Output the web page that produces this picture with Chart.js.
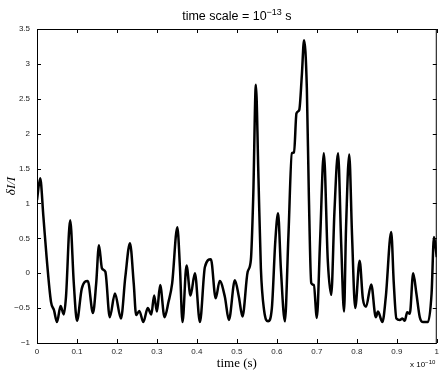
<!DOCTYPE html>
<html>
<head>
<meta charset="utf-8">
<script src="https://cdn.jsdelivr.net/npm/chart.js@4"></script>
<style>
  body { margin: 0; background: #fff; }
  canvas { display: block; }
</style>
</head>
<body>
<canvas id="chart" width="443" height="371"></canvas>
<script>
// time axis (units of 1e-10 s) and the relative intensity
const timeVals = [0, 0.008, 0.016, 0.024, 0.035, 0.0425, 0.05, 0.059, 0.067, 0.0725, 0.083, 0.092, 0.1, 0.112, 0.127, 0.14, 0.148, 0.155, 0.1625, 0.171,
  0.182, 0.195, 0.21, 0.221, 0.2325, 0.242, 0.248, 0.256, 0.266, 0.277, 0.286, 0.293, 0.30, 0.308, 0.319, 0.329, 0.338, 0.351, 0.3575, 0.364,
  0.374, 0.384, 0.395, 0.4075, 0.42, 0.435, 0.447, 0.457, 0.47, 0.48, 0.495, 0.505, 0.514, 0.527, 0.535, 0.541, 0.5475, 0.554, 0.56, 0.568,
  0.578, 0.5875, 0.596, 0.603, 0.61, 0.62, 0.629, 0.6375, 0.643, 0.649, 0.656, 0.6625, 0.668, 0.675, 0.68, 0.686, 0.6925, 0.70, 0.708, 0.7175,
  0.7275, 0.736, 0.744, 0.753, 0.761, 0.768, 0.773, 0.781, 0.788, 0.796, 0.807, 0.815, 0.823, 0.836, 0.8475, 0.853, 0.864, 0.8725, 0.886, 0.8925,
  0.899, 0.9075, 0.914, 0.92, 0.926, 0.9325, 0.941, 0.949, 0.9575, 0.966, 0.978, 0.987, 0.993, 1.0];
const dIvals = [1.05, 1.36, 0.81, 0.23, -0.41, -0.53, -0.70, -0.47, -0.59, -0.34, 0.76, -0.14, -0.68, -0.22, -0.11, -0.57, -0.15, 0.40, 0.07, 0.02,
  -0.63, -0.29, -0.65, -0.05, 0.43, -0.15, -0.60, -0.54, -0.70, -0.50, -0.59, -0.32, -0.55, -0.17, -0.63, -0.41, -0.15, 0.66, 0.09, -0.70,
  0.11, -0.32, 0.00, -0.70, 0.09, 0.20, -0.36, -0.11, -0.34, -0.67, -0.10, -0.34, -0.62, 0.02, 0.19, 1.12, 2.70, 1.36, 0.07, -0.53,
  -0.69, -0.50, 0.45, 0.86, 0.07, -0.69, 0.55, 1.72, 1.73, 2.29, 2.34, 2.84, 3.34, 2.65, 1.12, -0.14, -0.17, -0.64, 0.45, 1.72,
  0.17, -0.31, 0.88, 1.72, 0.41, -0.55, 0.64, 1.70, 0.55, -0.50, 0.18, -0.36, -0.48, -0.16, -0.63, -0.55, -0.70, -0.34, 0.59, -0.15,
  -0.65, -0.67, -0.65, -0.68, -0.56, -0.58, 0.00, -0.29, -0.63, -0.70, -0.70, -0.29, 0.52, 0.23];

const xTickVals = [0, 0.1, 0.2, 0.3, 0.4, 0.5, 0.6, 0.7, 0.8, 0.9, 1];
const xTickLabels = ['0', '0.1', '0.2', '0.3', '0.4', '0.5', '0.6', '0.7', '0.8', '0.9', '1'];
const yTickVals = [-1, -0.5, 0, 0.5, 1, 1.5, 2, 2.5, 3, 3.5];
const yTickLabels = ['\u22121', '\u22120.5', '0', '0.5', '1', '1.5', '2', '2.5', '3', '3.5'];

const points = timeVals.map((t, i) => ({x: t, y: dIvals[i]}));

// draw text with a superscript part
function supText(ctx, parts, cx, base, size, supSize) {
  let w = 0;
  parts.forEach(p => {
    ctx.font = (p.sup ? supSize : size) + 'px "Liberation Sans", Arial, sans-serif';
    w += ctx.measureText(p.t).width;
  });
  let x = cx === null ? parts.startX : cx - w / 2;
  parts.forEach(p => {
    ctx.font = (p.sup ? supSize : size) + 'px "Liberation Sans", Arial, sans-serif';
    ctx.fillText(p.t, x, p.sup ? base - size * 0.42 : base);
    x += ctx.measureText(p.t).width;
  });
}

// matlab style box with inward ticks + title + exponent label
const boxPlugin = {
  id: 'box',
  afterDraw(chart) {
    const {ctx, chartArea: a, scales} = chart;
    ctx.save();
    ctx.strokeStyle = '#000';
    ctx.lineWidth = 1;
    ctx.strokeRect(a.left + 0.5, a.top + 0.5, a.right - a.left - 1, a.bottom - a.top);
    ctx.beginPath();
    xTickVals.forEach(v => {
      const px = Math.round(scales.x.getPixelForValue(v)) + 0.5;
      ctx.moveTo(px, a.bottom); ctx.lineTo(px, a.bottom - 4);
      ctx.moveTo(px, a.top); ctx.lineTo(px, a.top + 4);
    });
    yTickVals.forEach(v => {
      const py = Math.round(scales.y.getPixelForValue(v)) + 0.5;
      ctx.moveTo(a.left, py); ctx.lineTo(a.left + 4, py);
      ctx.moveTo(a.right, py); ctx.lineTo(a.right - 4, py);
    });
    ctx.stroke();

    ctx.fillStyle = '#000';
    ctx.textBaseline = 'alphabetic';
    ctx.textAlign = 'left';
    supText(ctx, [{t: 'time scale = 10'}, {t: '\u221213', sup: true}, {t: ' s'}], (a.left + a.right) / 2, 20, 12.5, 9);
    const ex = [{t: 'x 10'}, {t: '\u221210', sup: true}];
    ex.startX = 410;
    supText(ctx, ex, null, 367, 8, 6);
    ctx.restore();
  }
};

new Chart(document.getElementById('chart'), {
  type: 'line',
  data: {
    datasets: [{
      data: points,
      borderColor: '#000',
      borderWidth: 2.5,
      pointRadius: 0,
      fill: false,
      cubicInterpolationMode: 'monotone'
    }]
  },
  options: {
    responsive: false,
    animation: false,
    layout: {padding: {top: 29, right: 6, left: 0, bottom: 0}},
    plugins: {legend: {display: false}, tooltip: {enabled: false}},
    scales: {
      x: {
        type: 'linear', min: 0, max: 1,
        afterFit: s => { s.height = 28; },
        afterBuildTicks: s => { s.ticks = xTickVals.map(v => ({value: v})); },
        grid: {display: false, drawTicks: false},
        border: {display: false},
        ticks: {
          padding: 4, color: '#222', maxRotation: 0, autoSkip: false,
          font: {family: '"Liberation Sans", Arial, sans-serif', size: 8},
          callback: (v) => xTickLabels[xTickVals.indexOf(v)]
        },
        title: {
          display: true, text: 'time (s)', color: '#000',
          font: {family: '"Liberation Serif", "Times New Roman", serif', size: 13},
          padding: {top: 0, bottom: 0}
        }
      },
      y: {
        type: 'linear', min: -1, max: 3.5,
        afterFit: s => { s.width = 37; },
        afterBuildTicks: s => { s.ticks = yTickVals.map(v => ({value: v})); },
        grid: {display: false, drawTicks: false},
        border: {display: false},
        ticks: {
          padding: 7, color: '#222', autoSkip: false,
          font: {family: '"Liberation Sans", Arial, sans-serif', size: 8},
          callback: (v) => yTickLabels[yTickVals.indexOf(v)]
        },
        title: {
          display: true, text: '\u03b4I/I', color: '#000',
          font: {family: '"Liberation Serif", "Times New Roman", serif', size: 13, style: 'italic'},
          padding: {top: 4, bottom: 0}
        }
      }
    }
  },
  plugins: [boxPlugin]
});
</script>
</body>
</html>
